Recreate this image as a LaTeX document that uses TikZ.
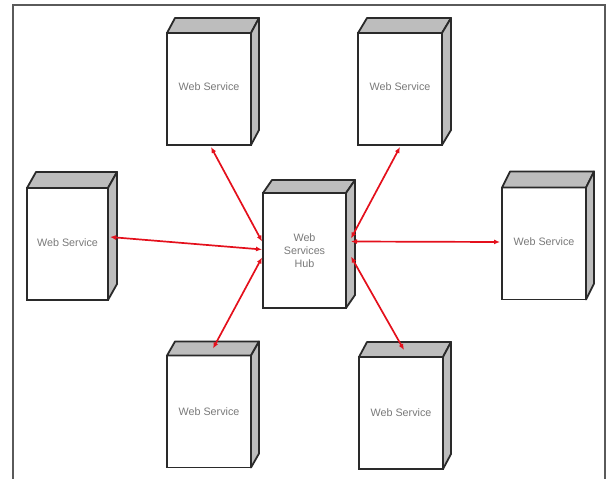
\documentclass[tikz,border=0pt]{standalone}
\usepackage{fontspec}
\setmainfont{Liberation Sans}
\usetikzlibrary{arrows.meta,calc}
\definecolor{edgegray}{HTML}{2A2A2A}
\definecolor{facegray}{HTML}{BDBDBD}
\definecolor{txtgray}{HTML}{7A7A7A}
\definecolor{linkred}{HTML}{E4101C}
\definecolor{framegray}{HTML}{5A5A5A}
\begin{document}
\begin{tikzpicture}[x=1bp,y=-1bp,
  wsbox/.style={draw=edgegray, line width=1.8bp, fill=white, minimum width=84bp,
    minimum height=112bp, inner sep=0pt, outer sep=0pt,
    font=\fontsize{10.8}{13}\selectfont, text=txtgray, align=center},
  boxface/.style={draw=edgegray, line width=1.8bp, fill=facegray, line join=round},
  link/.style={draw=linkred, line width=1.7bp,
    {Latex[length=6bp,width=5bp]}-{Latex[length=6bp,width=5bp]}},
  framestyle/.style={draw=framegray, line width=2bp}]
\path[use as bounding box] (0,0) rectangle (613,479);
% frame
\coordinate (f1) at (13,479);
\coordinate (f2) at (13,5);
\coordinate (f3) at (605,5);
\coordinate (f4) at (605,479);
\draw[framestyle] (f1) -- (f2) -- (f3) -- (f4);
% boxes
\node[wsbox] (tl) at (209,89) {\raisebox{4bp}{Web Service}};
\node[wsbox] (tr) at (400,89) {\raisebox{4bp}{Web Service}};
\node[wsbox, minimum width=81bp] (lb) at (67.5,244) {\raisebox{3bp}{Web Service}};
\node[wsbox] (rb) at (544,243.5) {\raisebox{3bp}{Web Service}};
\node[wsbox] (bl) at (209,411.5) {Web Service};
\node[wsbox] (br) at (401,413) {Web Service};
\node[wsbox, minimum width=83bp, minimum height=115bp] (hub) at (304.5,250.5) {Web\\Services\\Hub};
% faces
\foreach \n/\dx/\dy in {tl/8/-15, tr/9/-15, lb/9/-16, rb/8/-16, bl/8/-14, br/8/-15, hub/9/-13}{
  \draw[boxface] (\n.north west) -- ++(\dx,\dy) -- ($(\n.north east)+(\dx,\dy)$) -- (\n.north east) -- cycle;
  \draw[boxface] (\n.north east) -- ++(\dx,\dy) -- ($(\n.south east)+(\dx,\dy)$) -- (\n.south east) -- cycle;
}
% connector ends
\coordinate (h1) at ($(hub.west)+(-1,-9)$);
\coordinate (h2) at ($(hub.west)+(-1,-1)$);
\coordinate (h3) at ($(hub.west)+(-1,7)$);
\coordinate (h4) at ($(hub.east)+(5,-12)$);
\coordinate (h5) at ($(hub.east)+(5,-9)$);
\coordinate (h6) at ($(hub.east)+(5,6)$);
\coordinate (e1) at ($(tl.south)+(2,2)$);
\coordinate (e2) at ($(lb.east)+(2,-7)$);
\coordinate (e3) at ($(bl.north)+(4,-7)$);
\coordinate (e4) at ($(tr.south)+(0,2)$);
\coordinate (e5) at ($(rb.west)+(-2,-1.5)$);
\coordinate (e6) at ($(br.north)+(3,-7)$);
\draw[link] (e1) -- (h1);
\draw[link] (e2) -- (h2);
\draw[link] (e3) -- (h3);
\draw[link] (e4) -- (h4);
\draw[link] (e5) -- (h5);
\draw[link] (e6) -- (h6);
\end{tikzpicture}
\end{document}
